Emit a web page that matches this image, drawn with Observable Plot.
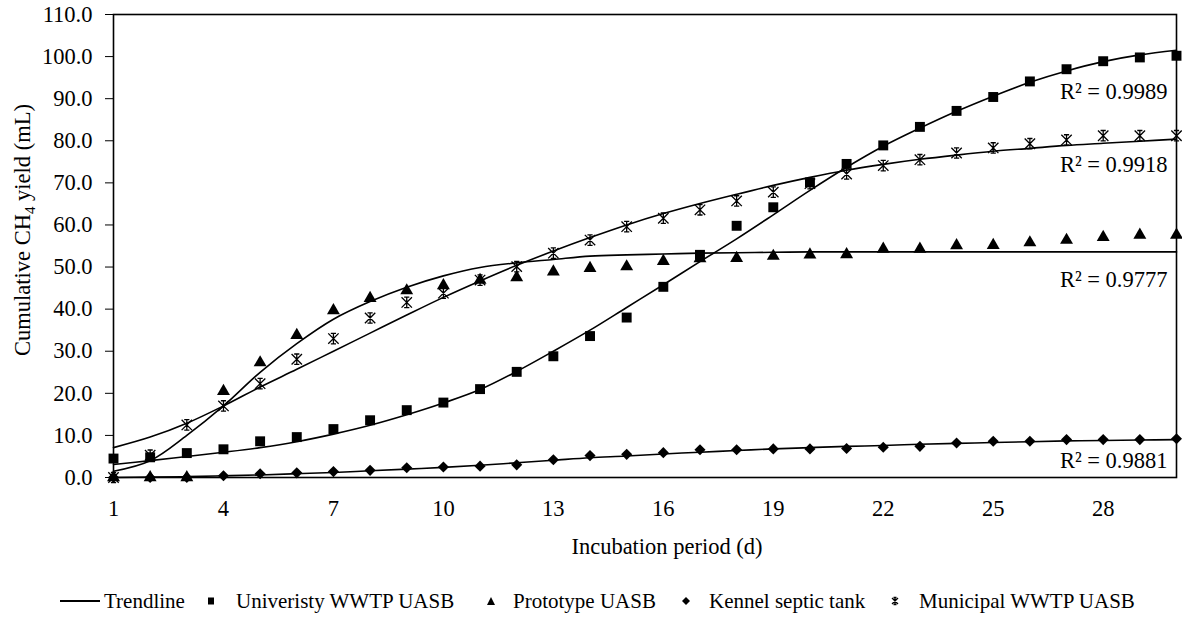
<!DOCTYPE html>
<html><head><meta charset="utf-8">
<script src="https://cdn.jsdelivr.net/npm/d3@7"></script>
<script src="https://cdn.jsdelivr.net/npm/@observablehq/plot@0.6"></script>
<style>
body{margin:0;background:#fff;font-family:"Liberation Serif","Times New Roman",serif;color:#000;}
#legend{position:relative;height:30px;margin-top:21px;font-size:21px;white-space:nowrap;}
#legend span{position:absolute;top:0;line-height:30px;}
#legend svg{position:absolute;}
</style></head><body><div id="chart"></div><div id="legend"></div>
<script>
const days = [1,2,3,4,5,6,7,8,9,10,11,12,13,14,15,16,17,18,19,20,21,22,23,24,25,26,27,28,29,30];
const xTicks = [1,4,7,10,13,16,19,22,25,28];
const yTicks = [0,10,20,30,40,50,60,70,80,90,100,110];

const university = [4.5,4.8,5.8,6.7,8.6,9.6,11.5,13.6,16.0,17.8,21.0,25.1,28.8,33.6,38.0,45.3,52.9,59.8,64.2,70.1,74.5,78.9,83.3,87.1,90.4,94.1,97.0,98.9,99.8,100.2];
const universityTrend = [3.1,4.0,5.0,6.0,7.1,8.5,10.3,12.4,14.9,17.7,20.9,25.2,30.0,35.0,40.4,45.8,51.3,56.7,62.4,68.2,73.7,78.7,83.0,87.0,90.6,93.9,96.6,98.8,100.4,101.5];

const prototype = [0,0,0,20.5,27.3,33.8,39.7,42.6,44.4,45.6,46.9,47.5,48.9,49.7,50.1,51.4,52.0,52.1,52.6,52.9,53.0,54.3,54.3,55.1,55.2,55.8,56.4,57.1,57.6,57.6];
const prototypeTrend = [1.5,4.0,10.0,17.0,25.0,31.8,37.6,41.8,45.2,47.9,49.9,51.0,51.8,52.6,52.9,53.1,53.3,53.4,53.5,53.6,53.6,53.6,53.6,53.6,53.6,53.6,53.6,53.6,53.6,53.6];

const kennel = [0,0,0,0.4,0.9,1.1,1.4,1.7,2.3,2.5,2.7,3.0,4.2,5.2,5.5,5.9,6.6,6.6,6.8,6.8,6.9,7.2,7.4,8.2,8.6,8.6,9.0,9.0,9.0,9.2];
const kennelTrend = [0.0,0.1,0.2,0.4,0.6,0.9,1.2,1.6,2.0,2.4,2.9,3.5,4.1,4.7,5.1,5.6,6.0,6.4,6.8,7.1,7.4,7.6,7.9,8.1,8.3,8.5,8.7,8.8,8.9,9.0];

const municipal = [0,5.3,12.5,17.0,22.3,28.1,33.0,37.9,41.6,43.8,46.9,50.1,53.3,56.4,59.6,61.6,63.6,65.7,67.8,69.8,72.1,74.1,75.5,77.1,78.3,79.3,80.2,81.2,81.2,81.2];
const municipalTrend = [7.1,9.6,12.9,17.0,21.5,25.7,30.0,34.3,38.6,42.8,46.7,50.4,53.8,57.0,60.0,62.7,65.1,67.3,69.4,71.3,73.0,74.4,75.6,76.6,77.5,78.2,78.9,79.4,79.9,80.4];

const r2Labels = ["R² = 0.9989","R² = 0.9918","R² = 0.9777","R² = 0.9881"];
const legendNames = ["Trendline","Univeristy WWTP UASB","Prototype UASB","Kennel septic tank","Municipal WWTP UASB"];
const xLabel = "Incubation period (d)";

const FONT = '"Liberation Serif","Times New Roman",serif';
const rows = arr => days.map((d,i)=>({day:d, v:arr[i]}));

const starSym = {draw(ctx, size){
  const h = Math.sqrt(size/Math.PI), c = h*0.5;
  ctx.moveTo(-h,-h); ctx.lineTo(h,h);
  ctx.moveTo(-h,h); ctx.lineTo(h,-h);
  ctx.moveTo(0,-h); ctx.lineTo(0,h);
  ctx.moveTo(-c,-h); ctx.lineTo(c,-h);
  ctx.moveTo(-c,h); ctx.lineTo(c,h);
}};

const trendOpts = {x:"day", y:"v", curve:"catmull-rom", stroke:"#000", strokeWidth:1.6};
const chart = Plot.plot({
  width:1182, height:565,
  marginTop:14, marginLeft:113, marginRight:6, marginBottom:88,
  style:{fontFamily:FONT, fontSize:"22.5px", color:"#000", background:"#fff", overflow:"visible"},
  x:{domain:[1,30], ticks:xTicks, tickFormat:d=>String(d), tickSize:0, tickPadding:23, label:null},
  y:{domain:[0,110], ticks:yTicks, tickFormat:d3.format(".1f"), tickSize:8, tickPadding:13, label:null},
  marks:[
    Plot.frame({stroke:"#000", strokeWidth:1.6}),
    Plot.line(rows(universityTrend), trendOpts),
    Plot.line(rows(prototypeTrend), trendOpts),
    Plot.line(rows(kennelTrend), trendOpts),
    Plot.line(rows(municipalTrend), trendOpts),
    Plot.dot(rows(university), {x:"day", y:"v", symbol:"square", r:5.6, fill:"#000", stroke:"none"}),
    Plot.dot(rows(prototype), {x:"day", y:"v", symbol:"triangle", r:4.8, fill:"#000", stroke:"none"}),
    Plot.dot(rows(kennel), {x:"day", y:"v", symbol:"diamond2", r:5.0, fill:"#000", stroke:"none"}),
    Plot.dot(rows(municipal), {x:"day", y:"v", symbol:starSym, r:5.2, fill:"none", stroke:"#000", strokeWidth:1.3}),
    Plot.text(r2Labels, {text:d=>d, frameAnchor:"right", dx:-9, y:[91.6,74.2,47.0,4.0], textAnchor:"end", fontSize:22.5, fill:"#000"}),
    Plot.text([xLabel], {text:d=>d, frameAnchor:"bottom", dy:76, dx:22, fontSize:22.5, fill:"#000"})
  ]
});
document.getElementById("chart").appendChild(chart);

// y-axis title with subscript
const svg = d3.select(chart);
const yt = svg.append("text")
  .attr("transform","translate(22,230) rotate(-90)")
  .attr("text-anchor","middle").attr("dy","0.35em")
  .attr("font-family",FONT).attr("font-size",22.5).attr("fill","#000");
yt.append("tspan").text("Cumulative CH");
yt.append("tspan").attr("dy",5).attr("font-size",15).text("4");
yt.append("tspan").attr("dy",-5).text(" yield (mL)");

// legend (HTML, below the SVG)
const sym = {
  line:['<svg width="40" height="4" style="left:60px;top:13px"><line x1="0" y1="2" x2="40" y2="2" stroke="#000" stroke-width="1.8"/></svg>'],
  square:['<svg width="8" height="8" style="left:207px;top:11px"><rect x="1" y="0.5" width="6" height="7" fill="#000"/></svg>'],
  triangle:['<svg width="10" height="10" style="left:486px;top:10px"><path d="M5,1L9,9L1,9Z" fill="#000"/></svg>'],
  diamond:['<svg width="10" height="10" style="left:681px;top:10px"><path d="M5,1L9,5L5,9L1,5Z" fill="#000"/></svg>'],
  star:['<svg width="10" height="10" style="left:890px;top:10px"><path d="M2,2L8,8M2,8L8,2M5,1.5L5,8.5M3.5,1.5L6.5,1.5M3.5,8.5L6.5,8.5" stroke="#000" stroke-width="1.3" fill="none"/></svg>']
};
const keys = ["line","square","triangle","diamond","star"];
const textLeft = [104,236,513,709,919];
const lg = document.getElementById("legend");
legendNames.forEach((n,i)=>{
  lg.insertAdjacentHTML("beforeend", sym[keys[i]][0]);
  const s = document.createElement("span");
  s.style.left = textLeft[i]+"px";
  s.textContent = n;
  lg.appendChild(s);
});
</script></body></html>
